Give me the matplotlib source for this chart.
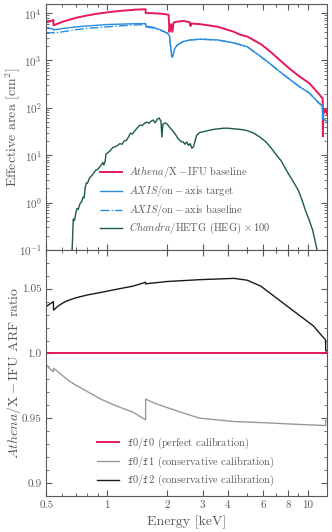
import matplotlib
matplotlib.use("Agg")
import matplotlib.pyplot as plt
from matplotlib.ticker import LogLocator, NullFormatter, MultipleLocator

plt.rcParams['font.family'] = 'serif'
plt.rcParams['font.serif'] = ['cmr10']
plt.rcParams['mathtext.fontset'] = 'cm'
plt.rcParams['axes.formatter.use_mathtext'] = True

# Athena/X-IFU baseline effective area
E_athena = [0.50, 0.52, 0.541, 0.542, 0.60, 0.70, 0.80, 0.90, 1.00, 1.10, 1.20, 1.30, 1.40,
            1.559, 1.560, 1.70, 1.90, 2.03, 2.05, 2.07, 2.09, 2.12, 2.15, 2.25, 2.41, 2.58,
            2.61, 2.64, 2.93, 3.55, 4.27, 4.60, 5.00, 5.90, 6.50, 7.30, 8.20, 9.10, 10.2,
            11.4, 11.9, 11.92, 11.95, 12.1, 12.25, 12.5]
A_athena = [6300, 6700, 7100, 5500, 6500, 7900, 8900, 9700, 10300, 10800, 11200, 11500, 11800,
            12000, 10000, 9900, 9600, 9200, 4000, 5600, 5800, 4000, 6300, 6600, 6800, 6400,
            5300, 6000, 5800, 5150, 4050, 3500, 3200, 2150, 1550, 1000, 650, 460, 330,
            195, 155, 25, 70, 85, 95, 75]

# AXIS/on-axis target and baseline
E_axis = [0.50, 0.541, 0.542, 0.60, 0.70, 0.80, 1.00, 1.20, 1.40, 1.559, 1.560, 1.70, 1.85,
          2.00, 2.05, 2.10, 2.12, 2.18, 2.25, 2.40, 2.60, 2.93, 3.55, 4.27, 4.60, 5.00, 5.85,
          6.50, 7.30, 8.20, 9.10, 10.2, 11.4, 11.9, 11.92, 12.5]
A_axis_target = [4800, 4600, 4400, 4700, 5100, 5350, 5700, 5850, 5950, 6000, 5300, 5000, 4400,
                 3800, 3300, 1300, 1170, 1800, 2130, 2500, 2700, 2800, 2700, 2350, 2150, 1950, 1200,
                 850, 570, 390, 280, 205, 125, 108, 58, 52]
A_axis_base = [3700, 3900, 3750, 4000, 4450, 4750, 5100, 5400, 5600, 5700, 5050, 4850, 4300,
               3750, 3300, 1300, 1170, 1800, 2130, 2500, 2700, 2800, 2700, 2350, 2150, 1950, 1200,
               850, 570, 390, 280, 205, 125, 108, 58, 52]

# Chandra/HETG (HEG) x 100
E_chandra = [0.671, 0.68, 0.69, 0.70, 0.71, 0.72, 0.735, 0.75, 0.76, 0.77, 0.78, 0.79, 0.80,
             0.82, 0.84, 0.86, 0.88, 0.90, 0.92, 0.94, 0.955, 0.965, 0.98, 0.99, 1.01, 1.04,
             1.07, 1.10, 1.13, 1.16, 1.19, 1.22, 1.25, 1.28, 1.31, 1.34, 1.38, 1.42, 1.46,
             1.50, 1.54, 1.58, 1.62, 1.66, 1.70, 1.74, 1.78, 1.82, 1.86, 1.88, 1.90, 1.95,
             2.00, 2.05, 2.10, 2.15, 2.20, 2.25, 2.30, 2.35, 2.40, 2.45, 2.50, 2.55, 2.60,
             2.65, 2.70, 2.75, 2.80, 2.90, 3.00, 3.20, 3.40, 3.60, 3.80, 4.00, 4.30, 4.60,
             5.00, 5.40, 5.80, 6.20, 6.60, 7.00, 7.40, 7.80, 8.20, 8.60, 9.00, 9.40, 9.80,
             10.2, 10.6, 11.0, 11.2]
A_chandra = [0.1, 0.45, 0.42, 0.6, 0.75, 0.72, 0.95, 1.05, 1.3, 1.25, 2.1, 2.6, 2.55,
             3.3, 3.7, 4.2, 4.8, 5.0, 5.6, 6.3, 7.0, 6.2, 7.4, 10.5, 11.2, 12.5,
             14.5, 15, 16, 17.5, 17, 20, 20.5, 24, 29, 28, 33, 38, 43,
             42, 47, 50, 47, 52, 55, 48, 57, 61, 52, 24, 45, 48,
             45, 39, 35, 31, 27, 23, 21, 19, 19, 17, 19, 16, 17.5,
             14, 15, 20, 26, 30, 31, 33, 35, 36, 37, 37, 36, 35,
             33, 29, 24, 19, 14, 10, 7.5, 5, 3.5, 2.5, 1.8, 1.1, 0.65,
             0.42, 0.26, 0.13, 0.09]

# ARF ratios
E_f0 = [0.5, 12.5]
r_f0 = [1.0, 1.0]
E_f1 = [0.50, 0.52, 0.541, 0.542, 0.58, 0.63, 0.66, 0.70, 0.80, 0.93, 1.10, 1.35, 1.559, 1.560,
        1.70, 1.97, 2.40, 2.90, 4.30, 6.25, 9.20, 12.3, 12.31, 12.5]
r_f1 = [0.991, 0.988, 0.9858, 0.9885, 0.9850, 0.9802, 0.9780, 0.9755, 0.9705, 0.9648, 0.9598,
        0.9546, 0.9487, 0.9648, 0.962, 0.9585, 0.954, 0.950, 0.9474, 0.9464, 0.9451, 0.9443,
        0.948, 0.948]
E_f2 = [0.50, 0.52, 0.541, 0.542, 0.57, 0.60, 0.63, 0.70, 0.80, 0.93, 1.00, 1.20, 1.35, 1.559,
        1.560, 2.00, 2.90, 4.30, 5.00, 5.85, 6.80, 7.90, 9.20, 10.7, 11.8, 12.3, 12.31, 12.5]
r_f2 = [1.0364, 1.0382, 1.0400, 1.0335, 1.0365, 1.0388, 1.0405, 1.0430, 1.0452, 1.0471, 1.0481,
        1.0505, 1.0520, 1.0550, 1.0538, 1.0556, 1.0570, 1.0580, 1.0566, 1.0520, 1.0443, 1.0366,
        1.0289, 1.0212, 1.0135, 1.0105, 1.002, 1.002]

xticks = [0.5, 1, 2, 3, 4, 6, 8, 10]
xticklabels = ['0.5', '1', '2', '3', '4', '6', '8', '10']
ratio_ticks = [0.9, 0.95, 1.0, 1.05]
ratio_ticklabels = ['0.9', '0.95', '1.0', '1.05']

red = '#e3195b'
blue = '#2a8de0'
green = '#1c5a4a'
grey = '0.35'

fig, (ax1, ax2) = plt.subplots(2, 1, sharex=True, figsize=(3.32, 5.32), dpi=100)
fig.subplots_adjust(left=0.14, right=0.985, top=0.9925, bottom=0.068, hspace=0)

ax1.plot(E_athena, A_athena, color=red, lw=1.4,
         label=r'$\mathit{Athena}/\mathrm{X}-\mathrm{IFU}$ baseline')
ax1.plot(E_axis, A_axis_target, color=blue, lw=1.0,
         label=r'$\mathit{AXIS}/\mathrm{on}-\mathrm{axis}$ target')
ax1.plot(E_axis, A_axis_base, color=blue, lw=1.0, ls='-.',
         label=r'$\mathit{AXIS}/\mathrm{on}-\mathrm{axis}$ baseline')
ax1.plot(E_chandra, A_chandra, color=green, lw=1.0,
         label=r'$\mathit{Chandra}$/HETG (HEG) $\times\,100$')
ax1.set_xscale('log')
ax1.set_yscale('log')
ax1.set_ylim(0.1, 1.55e4)
ax1.set_ylabel(r'Effective area [cm$^2$]', fontsize=10)
ax1.yaxis.set_label_coords(-0.085, 0.5)
leg1 = ax1.legend(loc='lower left', bbox_to_anchor=(0.19, 0.055), frameon=False, fontsize=7.5,
                  borderaxespad=0, borderpad=0, handlelength=2.1, handletextpad=0.75,
                  labelspacing=0.28)

ax2.plot(E_f0, r_f0, color=red, lw=1.4, label=r'$\mathtt{f0/f0}$ (perfect calibration)')
ax2.plot(E_f1, r_f1, color='#999999', lw=1.0, label=r'$\mathtt{f0/f1}$ (conservative calibration)')
ax2.plot(E_f2, r_f2, color='#1a1a1a', lw=1.0, label=r'$\mathtt{f0/f2}$ (conservative calibration)')
ax2.set_xlim(0.5, 12.5)
ax2.set_ylim(0.89, 1.08)
ax2.set_xlabel('Energy [keV]', fontsize=10)
ax2.set_ylabel(r'$\mathit{Athena}/\mathrm{X}-\mathrm{IFU}$ ARF ratio', fontsize=10)
ax2.yaxis.set_label_coords(-0.085, 0.5)
ax2.set_yticks(ratio_ticks)
ax2.set_yticklabels(ratio_ticklabels)
ax2.yaxis.set_minor_locator(MultipleLocator(0.01))
ax2.set_xticks(xticks)
ax2.set_xticklabels(xticklabels)
ax2.xaxis.set_minor_locator(LogLocator(base=10, subs=[0.5, 0.6, 0.7, 0.8, 0.9, 5, 7, 9], numticks=20))
ax2.xaxis.set_minor_formatter(NullFormatter())
leg2 = ax2.legend(loc='lower left', bbox_to_anchor=(0.18, 0.03), frameon=False, fontsize=7.5,
                  borderaxespad=0, borderpad=0, handlelength=2.1, handletextpad=0.75,
                  labelspacing=0.32)

for ax, leg in ((ax1, leg1), (ax2, leg2)):
    ax.tick_params(which='both', direction='in', top=True, right=True, labelsize=8,
                   colors=grey, labelcolor=grey)
    ax.tick_params(which='major', length=4)
    ax.tick_params(which='minor', length=2)
    for s in ax.spines.values():
        s.set_color(grey)
    ax.yaxis.label.set_color(grey)
    ax.xaxis.label.set_color(grey)
    for t in leg.get_texts():
        t.set_color(grey)

fig.savefig('out.png', dpi=100)
